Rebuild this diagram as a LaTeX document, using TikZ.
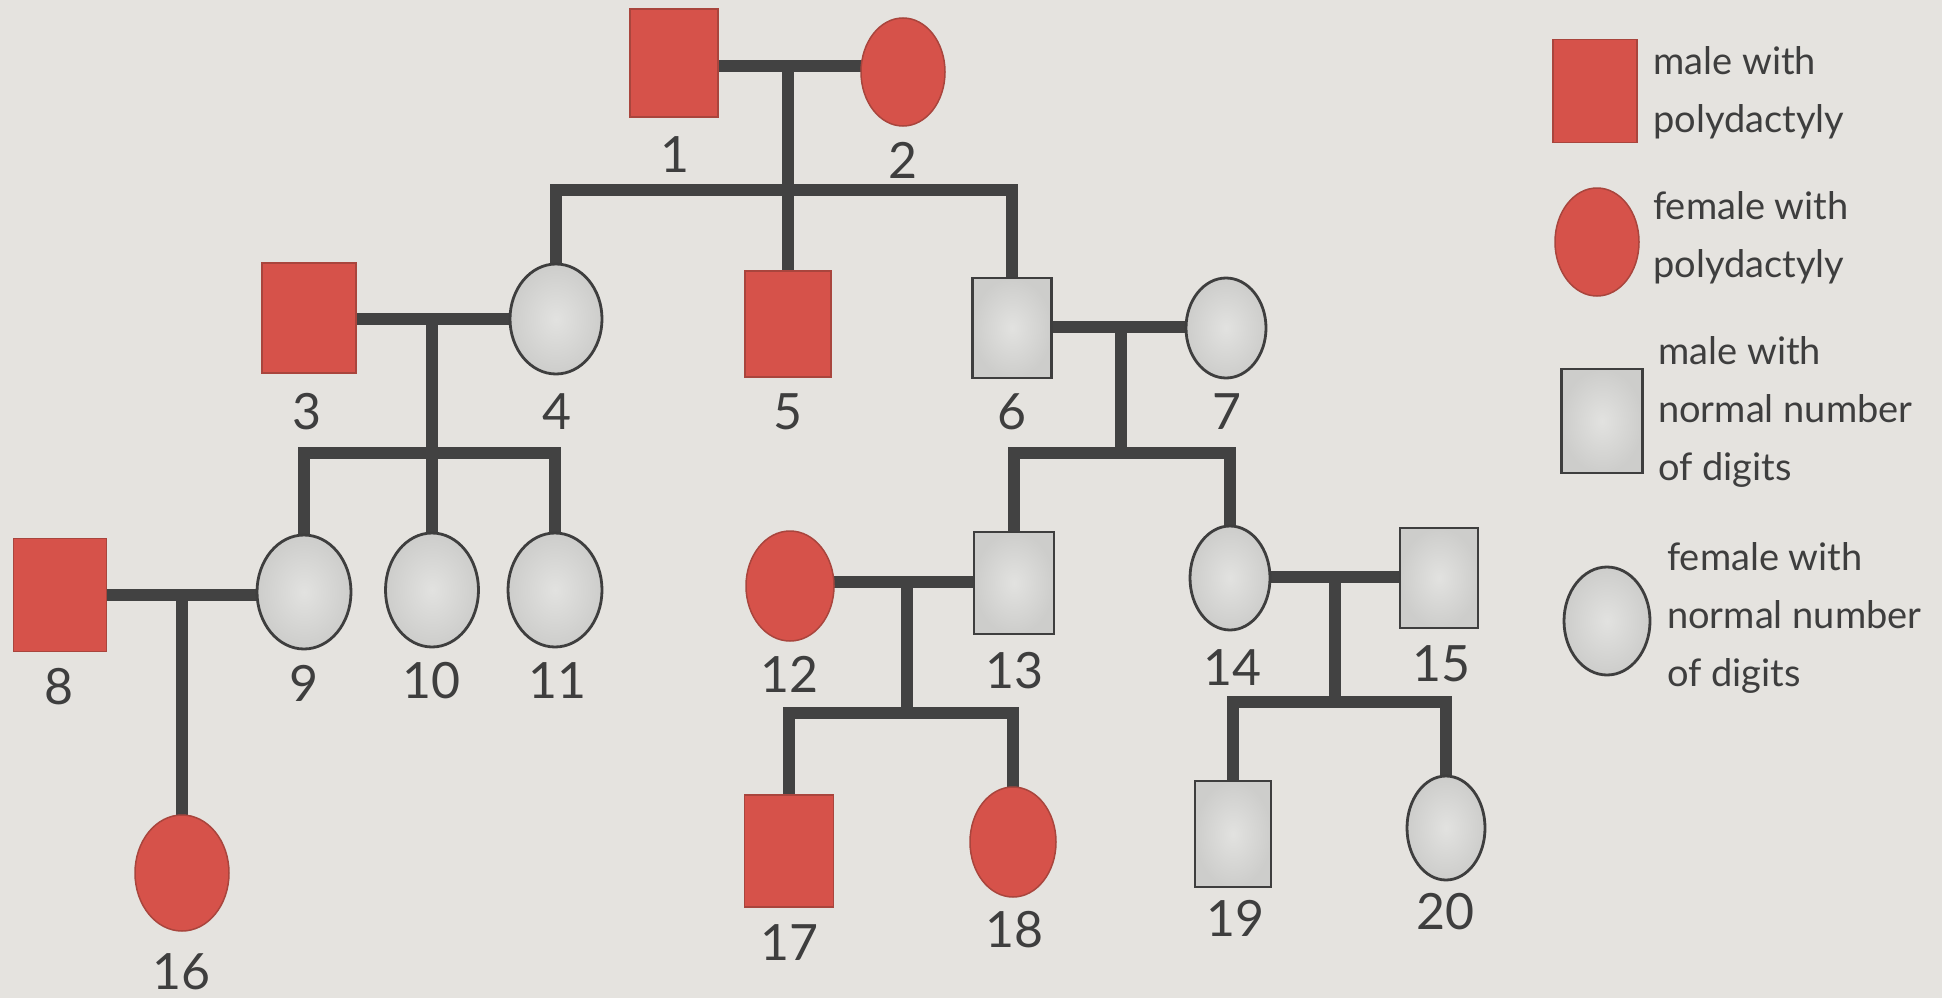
\documentclass[tikz,border=0pt]{standalone}
\usepackage{fontspec}
\setmainfont{Lato}
\usetikzlibrary{shapes.geometric}
\pgfdeclarelayer{back}
\pgfdeclarelayer{lines}
\pgfsetlayers{back,lines,main}
\definecolor{paper}{HTML}{E5E3DF}
\definecolor{ink}{HTML}{3E3E3E}
\definecolor{barcol}{HTML}{424242}
\definecolor{polyred}{HTML}{D6524A}
\definecolor{redline}{HTML}{A9453D}
\definecolor{grayin}{HTML}{E2E2E0}
\definecolor{grayout}{HTML}{CDCDCB}
\begin{document}
\begin{tikzpicture}[x=1pt,y=-1pt,
  affsq/.style 2 args={rectangle, fill=polyred, draw=redline, line width=1.5pt,
    inner sep=0pt, outer sep=0pt, minimum width=#1, minimum height=#2},
  affci/.style 2 args={ellipse, fill=polyred, draw=redline, line width=1.5pt,
    inner sep=0pt, outer sep=0pt, minimum width=#1, minimum height=#2},
  normsq/.style 2 args={rectangle, shade, inner color=grayin, outer color=grayout,
    draw=ink, line width=2.8pt, inner sep=0pt, outer sep=0pt, minimum width=#1, minimum height=#2},
  normci/.style 2 args={ellipse, shade, inner color=grayin, outer color=grayout,
    draw=ink, line width=2.8pt, inner sep=0pt, outer sep=0pt, minimum width=#1, minimum height=#2},
  lbl/.style={text=ink, inner sep=0pt, font=\fontsize{50}{60}\selectfont},
  legtxt/.style={text=ink, inner sep=0pt, align=left, anchor=west,
    font=\fontsize{38}{58}\selectfont},
  bar/.style={draw=barcol, line width=12pt}
]
\begin{pgfonlayer}{back}
\fill[paper] (0,0) rectangle (1942,998);
\end{pgfonlayer}
\useasboundingbox (0,0) rectangle (1942,998);

% generation I
\node[affsq={88}{108}] (n1) at (674,63) {};
\node[affci={84}{108}] (n2) at (903,72) {};
% generation II
\node[affsq={94}{110}] (n3) at (309,318) {};
\node[normci={92}{110}] (n4) at (556,319) {};
\node[affsq={86}{106}] (n5) at (788,324) {};
\node[normsq={79}{100}] (n6) at (1012,328) {};
\node[normci={80}{100}] (n7) at (1226,328) {};
% generation III
\node[affsq={93}{113}] (n8) at (60,595) {};
\node[normci={94}{114}] (n9) at (304,592) {};
\node[normci={93}{114}] (n10) at (432,590) {};
\node[normci={94}{114}] (n11) at (555,590) {};
\node[affci={88}{110}] (n12) at (790,586) {};
\node[normsq={80}{102}] (n13) at (1014,583) {};
\node[normci={80}{104}] (n14) at (1230,578) {};
\node[normsq={78}{100}] (n15) at (1439,578) {};
% generation IV
\node[affci={94}{116}] (n16) at (182,873) {};
\node[affsq={89}{112}] (n17) at (789,851) {};
\node[affci={86}{110}] (n18) at (1013,842) {};
\node[normsq={76}{106}] (n19) at (1233,834) {};
\node[normci={78}{104}] (n20) at (1446,828) {};

% labels
\node[lbl] (l1) at (675,155) {1};
\node[lbl] (l2) at (903,160) {2};
\node[lbl] (l3) at (307,412) {3};
\node[lbl] (l4) at (557,412) {4};
\node[lbl] (l5) at (788,412) {5};
\node[lbl] (l6) at (1012,412) {6};
\node[lbl] (l7) at (1227,412) {7};
\node[lbl] (l8) at (59,687) {8};
\node[lbl] (l9) at (304,683) {9};
\node[lbl] (l10) at (431,681) {10};
\node[lbl] (l11) at (557,681) {11};
\node[lbl] (l12) at (789,674) {12};
\node[lbl] (l13) at (1014,671) {13};
\node[lbl] (l14) at (1232,668) {14};
\node[lbl] (l15) at (1441,664) {15};
\node[lbl] (l16) at (181,972) {16};
\node[lbl] (l17) at (789,943) {17};
\node[lbl] (l18) at (1014,930) {18};
\node[lbl] (l19) at (1235,918) {19};
\node[lbl] (l20) at (1445,912) {20};

% marriage and sibling coordinates
\coordinate (m12) at (788,66);
\coordinate (s12) at (788,190);
\coordinate (m34) at (432,319);
\coordinate (s34) at (432,453);
\coordinate (m67) at (1121,327);
\coordinate (s67) at (1121,453);
\coordinate (m89) at (182,595);
\coordinate (m1213) at (907,582);
\coordinate (s1213) at (907,713);
\coordinate (m1415) at (1335,577);
\coordinate (s1415) at (1335,702);

\begin{pgfonlayer}{lines}
\draw[bar] (n1.center |- m12) -- (n2.center |- m12);
\draw[bar] (m12) -- (m12 |- n5.north);
\draw[bar] (n4.north) |- (s12) -| (n6.north);

\draw[bar] (n3.center |- m34) -- (n4.center |- m34);
\draw[bar] (m34) -- (m34 |- n10.north);
\draw[bar] (n9.north) |- (s34) -| (n11.north);

\draw[bar] (n6.center |- m67) -- (n7.center |- m67);
\draw[bar] (m67) -- (s67);
\draw[bar] (n13.north) |- (s67) -| (n14.north);

\draw[bar] (n8.center |- m89) -- (n9.center |- m89);
\draw[bar] (m89) -- (m89 |- n16.north);

\draw[bar] (n12.center |- m1213) -- (n13.center |- m1213);
\draw[bar] (m1213) -- (s1213);
\draw[bar] (n17.north) |- (s1213) -| (n18.north);

\draw[bar] (n14.center |- m1415) -- (n15.center |- m1415);
\draw[bar] (m1415) -- (s1415);
\draw[bar] (n19.north) |- (s1415) -| (n20.north);
\end{pgfonlayer}

% legend
\node[affsq={84}{103}] (k1) at (1595,91) {};
\node[affci={84}{108}] (k2) at (1597,242) {};
\node[normsq={81}{104}] (k3) at (1602,421) {};
\node[normci={86}{108}] (k4) at (1607,621) {};
\node[legtxt] (t1) at (1653,93) {male with\\polydactyly};
\node[legtxt] (t2) at (1653,238) {female with\\polydactyly};
\node[legtxt] (t3) at (1658,412) {male with\\normal number\\of digits};
\node[legtxt] (t4) at (1667,618) {female with\\normal number\\of digits};
\end{tikzpicture}
\end{document}
